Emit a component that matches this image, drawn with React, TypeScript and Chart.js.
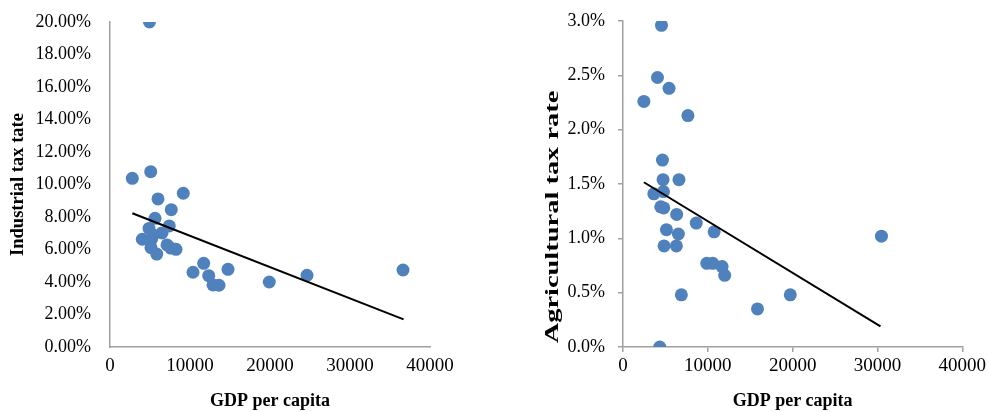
import React, { useEffect, useRef } from 'react';
import { Chart, registerables } from 'chart.js';

Chart.register(...registerables);

// ---- Data ----
const industrialGdp = [4940, 2790, 5090, 6000, 9160, 7660, 5625, 7410, 4875, 6500, 5400, 4040, 5210, 5125, 7125, 7590, 8250, 5840, 10375, 11710, 12340, 12875, 13625, 14750, 19910, 24625, 36625];
const industrialRate = [20.0, 10.38, 10.79, 9.11, 9.46, 8.45, 7.92, 7.45, 7.3, 7.02, 6.9, 6.63, 6.65, 6.11, 6.28, 6.09, 6.01, 5.72, 4.6, 5.15, 4.39, 3.82, 3.8, 4.78, 4.0, 4.41, 4.74];
const industrialTrendGdp = [2790, 36700];
const industrialTrendRate = [8.23, 1.7];

const agriGdp = [4536, 4067, 5426, 2461, 7653, 4653, 4723, 6598, 4770, 3633, 4454, 4805, 6329, 8638, 10747, 5122, 6528, 4840, 6294, 9880, 10583, 11685, 11990, 6880, 4336, 15857, 19725, 30472];
const agriRate = [2.96, 2.48, 2.38, 2.26, 2.13, 1.72, 1.54, 1.54, 1.43, 1.41, 1.29, 1.28, 1.22, 1.14, 1.06, 1.08, 1.04, 0.93, 0.93, 0.77, 0.77, 0.74, 0.66, 0.48, 0.0, 0.35, 0.48, 1.02];
const agriTrendGdp = [2461, 30360];
const agriTrendRate = [1.516, 0.19];

const gdpTicks = [0, 10000, 20000, 30000, 40000];
const industrialTicks = [0, 2, 4, 6, 8, 10, 12, 14, 16, 18, 20];
const agriTicks = [0, 0.5, 1.0, 1.5, 2.0, 2.5, 3.0];

const FONT = '"Liberation Serif", "Times New Roman", serif';
const POINT = '#4f81bd';
const AXIS = '#a0a0a0';

function toPoints(xs: number[], ys: number[]) {
  return xs.map((x, i) => ({ x, y: ys[i] }));
}

type Opts = {
  xs: number[]; ys: number[]; tx: number[]; ty: number[];
  yTicks: number[]; decimals: number;
  yWidth: number; xHeight: number;
  padTop: number; padRight: number;
  yTitle: string | null; yTitlePad: number;
  yLabelPad: number; xLabelPad: number;
  tickMarks: boolean;
  extraPlugins: any[];
};

function makeConfig(o: Opts): any {
  const yMin = o.yTicks[0];
  const yMax = o.yTicks[o.yTicks.length - 1];
  const yStep = o.yTicks[1] - o.yTicks[0];
  const grid = o.tickMarks
    ? { display: true, drawOnChartArea: false, drawTicks: true, tickLength: 5, color: AXIS, lineWidth: 1.5 }
    : { display: false, drawTicks: false };
  return {
    type: 'scatter',
    data: {
      datasets: [
        {
          data: toPoints(o.tx, o.ty),
          showLine: true,
          borderColor: '#000',
          borderWidth: 2,
          pointRadius: 0,
          order: 0,
        },
        {
          data: toPoints(o.xs, o.ys),
          backgroundColor: POINT,
          borderColor: POINT,
          borderWidth: 0,
          pointRadius: 6.5,
          order: 1,
        },
      ],
    },
    options: {
      animation: false,
      responsive: false,
      events: [],
      layout: { padding: { left: 0, top: o.padTop, right: o.padRight, bottom: 0 } },
      plugins: { legend: { display: false }, tooltip: { enabled: false } },
      scales: {
        x: {
          type: 'linear',
          min: gdpTicks[0],
          max: gdpTicks[gdpTicks.length - 1],
          afterBuildTicks: (s: any) => { s.ticks = gdpTicks.map((v) => ({ value: v })); },
          grid,
          border: { display: true, color: AXIS, width: 1.5 },
          ticks: { color: '#000', font: { family: FONT, size: 19 }, padding: o.xLabelPad, maxRotation: 0, callback: (v: any) => String(v) },
          title: { display: true, text: 'GDP per capita', color: '#000', font: { family: FONT, size: 18, weight: 'bold' }, padding: { top: 0, bottom: 0 } },
          afterFit: (s: any) => { s.height = o.xHeight; },
        },
        y: {
          type: 'linear',
          min: yMin,
          max: yMax,
          ticks: { stepSize: yStep, color: '#000', font: { family: FONT, size: 18 }, padding: o.yLabelPad, callback: (v: any) => Number(v).toFixed(o.decimals) + '%' },
          grid,
          border: { display: true, color: AXIS, width: 1.5 },
          title: o.yTitle
            ? { display: true, text: o.yTitle, color: '#000', font: { family: FONT, size: 18.5, weight: 'bold' }, padding: { top: o.yTitlePad, bottom: 0 } }
            : { display: false },
          afterFit: (s: any) => { s.width = o.yWidth; s.paddingTop = 0; s.paddingBottom = 0; },
        },
      },
    },
    plugins: o.extraPlugins,
  };
}

const agriTitlePlugin = {
  id: 'agriTitle',
  afterDraw(chart: any) {
    const ctx = chart.ctx;
    ctx.save();
    ctx.translate(73, 217);
    ctx.rotate(-Math.PI / 2);
    ctx.scale(1.58, 1);
    ctx.font = 'bold 18px ' + FONT;
    ctx.textAlign = 'center';
    ctx.textBaseline = 'middle';
    ctx.fillStyle = '#000';
    ctx.fillText('Agricultural tax rate', 0, 0);
    ctx.restore();
  },
};

function ChartCanvas({ config, left, width }: { config: any; left: number; width: number }) {
  const ref = useRef<HTMLCanvasElement | null>(null);
  useEffect(() => {
    if (!ref.current) return;
    const chart = new Chart(ref.current, config);
    return () => chart.destroy();
  }, [config]);
  return (
    <canvas
      ref={ref}
      width={width}
      height={412}
      style={{ position: 'absolute', left, top: 0, width, height: 412 }}
    />
  );
}

const leftConfig = makeConfig({
  xs: industrialGdp, ys: industrialRate, tx: industrialTrendGdp, ty: industrialTrendRate,
  yTicks: industrialTicks, decimals: 2,
  yWidth: 110, xHeight: 65, padTop: 22, padRight: 50,
  yTitle: 'Industrial tax tate', yTitlePad: 7,
  yLabelPad: 19, xLabelPad: 8, tickMarks: false, extraPlugins: [],
});

const rightConfig = makeConfig({
  xs: agriGdp, ys: agriRate, tx: agriTrendGdp, ty: agriTrendRate,
  yTicks: agriTicks, decimals: 1,
  yWidth: 143, xHeight: 65, padTop: 21, padRight: 25,
  yTitle: null, yTitlePad: 0,
  yLabelPad: 13, xLabelPad: 3, tickMarks: true, extraPlugins: [agriTitlePlugin],
});

export default function App() {
  return (
    <div style={{ position: 'fixed', left: 0, top: 0, width: 989, height: 412, background: '#fff', overflow: 'hidden' }}>
      <ChartCanvas config={leftConfig} left={0} width={480} />
      <ChartCanvas config={rightConfig} left={480} width={509} />
    </div>
  );
}
